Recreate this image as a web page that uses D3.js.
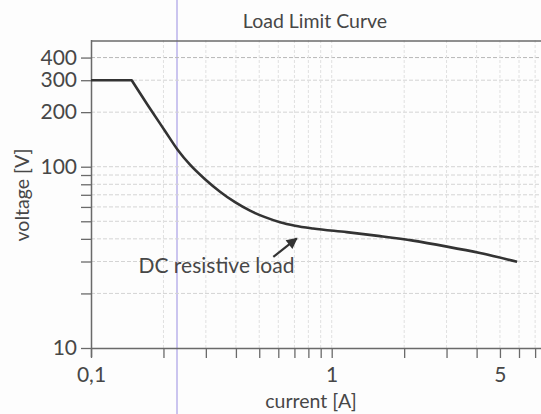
<!DOCTYPE html>
<html><head><meta charset="utf-8">
<script src="https://cdn.jsdelivr.net/npm/d3@7"></script>
<style>
body{margin:0;background:#fff}
svg{display:block}
text{font-family:Lato, "Open Sans", sans-serif}
</style>
</head><body>
<svg id="chart" width="541" height="414"></svg>
<script>
// ---- data ----
const currentA = [0.1, 0.1476, 0.1758, 0.2030, 0.2298, 0.2578, 0.2976, 0.3436, 0.3966, 0.4578, 0.5284, 0.6099, 0.7040, 0.8363, 1.154, 1.588, 2.177, 3.013, 4.13, 5.89];
const voltageV = [300, 300, 209.5, 157.5, 123.3, 102.6, 85.3, 72.8, 63.7, 57.2, 52.7, 49.4, 47.3, 45.65, 43.56, 41.4, 39.1, 36.25, 33.4, 29.9];
const xTickValues = [0.1,0.2,0.3,0.4,0.5,0.6,0.7,0.8,0.9,1,2,3,4,5,6,7];
const xLabelValues = [0.1, 1, 5];
const xLabelTexts = ["0,1", "1", "5"];
const yTickValues = [10,20,30,40,50,60,70,80,90,100,200,300,400];
const yLabelValues = [10,100,200,300,400];
const yLabelTexts = ["10","100","200","300","400"];
const titleText = "Load Limit Curve";
const xAxisTitle = "current [A]";
const yAxisTitle = "voltage [V]";
const annotationText = "DC resistive load";
const arrowFrom = [0.572, 31.8];
const arrowTo = [0.716, 40.2];
const annotationAt = [0.70, 26.0];

// ---- layout ----
const svg = d3.select("#chart");
const mLeft = 91, mBottom = 348, mTop = 40, decadeX = 240.7;
const x = d3.scaleLog().domain([0.1, 10]).range([mLeft, mLeft + 2*decadeX]);
const y = d3.scaleLog().domain([10, 500]).range([mBottom, mTop]);
const ink = "#474747";

svg.append("rect").attr("width",541).attr("height",414).attr("fill","#fdfdfd");

// scan artifact line
svg.append("line").attr("x1",177).attr("x2",177).attr("y1",0).attr("y2",414)
  .attr("stroke","#cbc5ef").attr("stroke-width",2);

// grids
svg.append("g").selectAll("line").data(yTickValues.filter(v=>v>10)).join("line")
  .attr("x1", mLeft).attr("x2", x.range()[1])
  .attr("y1", d=>y(d)).attr("y2", d=>y(d))
  .attr("stroke", d=> d===400 ? "#b8b8b8" : "#d4d4d4")
  .attr("stroke-width",1).attr("stroke-dasharray","4,2");
svg.append("g").selectAll("line").data(xTickValues.filter(v=>v>0.1)).join("line")
  .attr("x1", d=>x(d)).attr("x2", d=>x(d))
  .attr("y1", mTop).attr("y2", mBottom)
  .attr("stroke","#e0e0e0").attr("stroke-width",1).attr("stroke-dasharray","3,2");

// top frame
svg.append("line").attr("x1",mLeft).attr("x2",x.range()[1]).attr("y1",mTop+1).attr("y2",mTop+1)
  .attr("stroke","#6a6a6a").attr("stroke-width",1.5);

// axes
const xAxis = d3.axisBottom(x).tickValues(xTickValues).tickSize(10).tickSizeOuter(0).tickPadding(9)
  .tickFormat(d => { const i = xLabelValues.indexOf(d); return i>=0 ? xLabelTexts[i] : ""; });
const gx = svg.append("g").attr("transform",`translate(0,${mBottom})`).call(xAxis);
const yAxis = d3.axisLeft(y).tickValues(yTickValues).tickSize(10).tickSizeOuter(0).tickPadding(4)
  .tickFormat(d => { const i = yLabelValues.indexOf(d); return i>=0 ? yLabelTexts[i] : ""; });
const gy = svg.append("g").attr("transform",`translate(${mLeft},0)`).call(yAxis);
[gx, gy].forEach(g => {
  g.select(".domain").attr("stroke","#6a6a6a").attr("stroke-width",1.5);
  g.selectAll(".tick line").attr("stroke","#6a6a6a").attr("stroke-width",1.3);
  g.selectAll(".tick text").attr("fill",ink).style("font-size","21px").style("font-family","Lato, sans-serif");
});
gy.select(".domain").attr("d", `M0.5,${mTop}V${mBottom+9}`);

// curve
const pts = currentA.map((c,i)=>[x(c), y(voltageV[i])]);
const plateau = d3.line()(pts.slice(0,2));
const tail = d3.line().curve(d3.curveMonotoneX)(pts.slice(1));
svg.append("path").attr("d", plateau + "L" + tail.slice(1))
  .attr("fill","none").attr("stroke","#333").attr("stroke-width",2.6)
  .attr("stroke-linejoin","round");

// annotation
svg.append("defs").append("marker").attr("id","ah").attr("viewBox","0 0 10 10")
  .attr("refX",9).attr("refY",5).attr("markerWidth",12).attr("markerHeight",11)
  .attr("markerUnits","userSpaceOnUse").attr("orient","auto")
  .append("path").attr("d","M0,0L10,5L0,10z").attr("fill","#333");
svg.append("line").attr("x1",x(arrowFrom[0])).attr("y1",y(arrowFrom[1]))
  .attr("x2",x(arrowTo[0])).attr("y2",y(arrowTo[1]))
  .attr("stroke","#333").attr("stroke-width",2.2).attr("marker-end","url(#ah)");
svg.append("text").attr("x",x(annotationAt[0])).attr("y",y(annotationAt[1]))
  .attr("text-anchor","end").attr("fill",ink).style("font-size","21px").text(annotationText);

// titles
svg.append("text").attr("x",315).attr("y",28).attr("text-anchor","middle")
  .attr("fill",ink).style("font-size","19.5px").text(titleText);
svg.append("text").attr("x",311).attr("y",408).attr("text-anchor","middle")
  .attr("fill",ink).style("font-size","19.5px").text(xAxisTitle);
svg.append("text").attr("transform","translate(29,195) rotate(-90)").attr("text-anchor","middle")
  .attr("fill",ink).style("font-size","19.5px").text(yAxisTitle);
</script>
</body></html>
